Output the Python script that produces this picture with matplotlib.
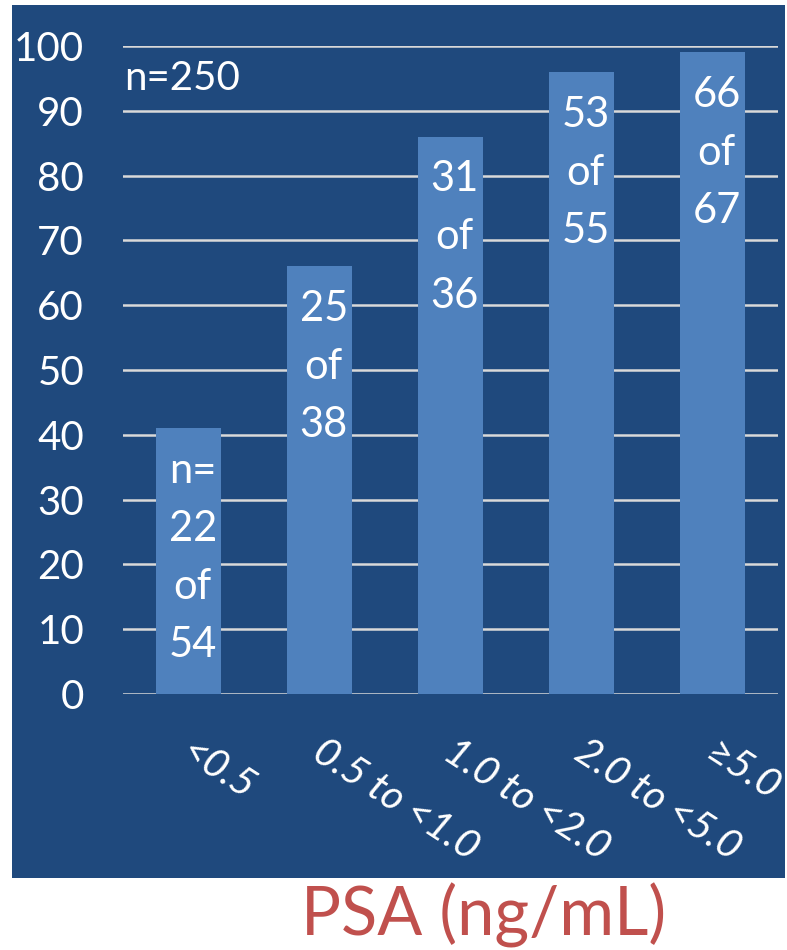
import matplotlib
matplotlib.use('Agg')
import matplotlib.pyplot as plt
from matplotlib.patches import Rectangle
import numpy as np

# data
categories = ['<0.5', '0.5 to <1.0', '1.0 to <2.0', '2.0 to <5.0', '\u22655.0']
percent = [41, 66, 86, 96, 99]
bar_labels = ['n=\n22\nof\n54', '25\nof\n38', '31\nof\n36', '53\nof\n55', '66\nof\n67']
yticks = [0, 10, 20, 30, 40, 50, 60, 70, 80, 90, 100]

dark = '#1f497d'
barcol = '#4f81bd'
plt.rcParams['font.family'] = ['Lato', 'DejaVu Sans']

fig = plt.figure(figsize=(7.87, 9.5), dpi=100)
fig.patch.set_facecolor('white')
# dark panel behind the chart
fig.patches.append(Rectangle((12/787, 72/950), 773/787, 873/950, transform=fig.transFigure,
                             facecolor=dark, edgecolor='none', zorder=-5))

ax = fig.add_axes([123/787, 1-694/950, 655/787, 648/950])
ax.set_zorder(2)
ax.set_facecolor(dark)
x = np.arange(len(categories))
ax.bar(x, percent, width=0.5, color=barcol, zorder=3)
ax.set_xlim(-0.5, 4.5)
ax.set_ylim(0, 100)
ax.set_yticks(yticks)
ax.yaxis.grid(True, color='#d9d9d9', lw=1.8, zorder=1)
ax.set_axisbelow(True)
for s in ax.spines.values():
    s.set_visible(False)
ax.tick_params(axis='y', length=0, pad=28, labelsize=29, labelcolor='white')
ax.set_xticks(x)
ax.set_xticklabels([])
ax.tick_params(axis='x', length=0)

for i, lab in enumerate(categories):
    ax.annotate(lab, xy=(i, 0), xytext=(5, -28), textcoords='offset points',
                rotation=-33, rotation_mode='anchor', ha='left', va='top',
                fontsize=29, style='italic', color='white', annotation_clip=False)

for i, (v, lab) in enumerate(zip(percent, bar_labels)):
    ax.annotate(lab, xy=(i, v), xytext=(3, -17), textcoords='offset points',
                ha='center', va='top', multialignment='center', linespacing=1.65,
                fontsize=30, color='white', zorder=4)

ax.text(-0.49, 95, 'n=250', ha='left', va='center', fontsize=29, color='white')

fig.text(484/787, 1-915/950, 'PSA (ng/mL)', ha='center', va='center', fontsize=48, color='#c0504d')

fig.savefig('out.png', dpi=100)
